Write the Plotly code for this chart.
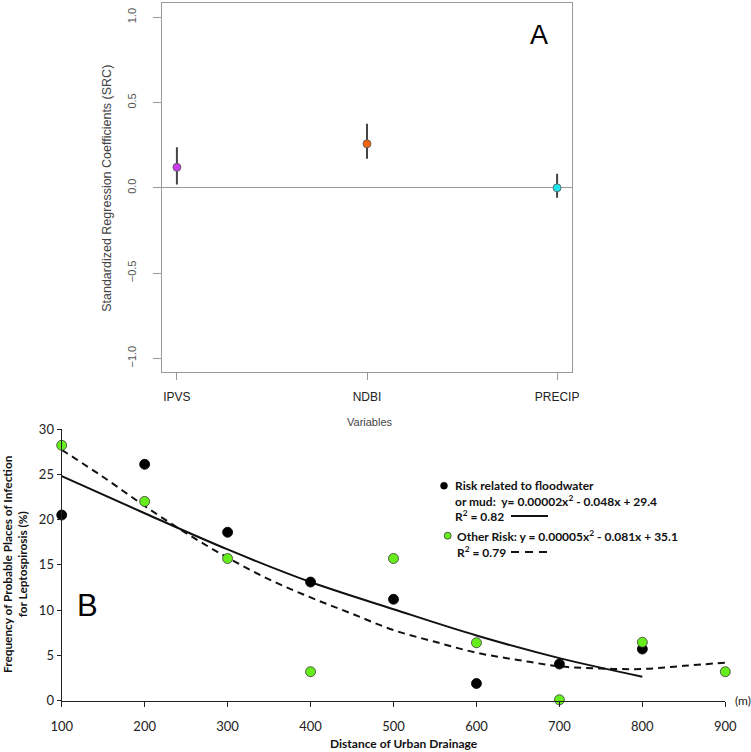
import plotly.graph_objects as go

W, H = 751, 752

# ---------------- Panel A data ----------------
variables = ["IPVS", "NDBI", "PRECIP"]
src = [0.12, 0.258, 0.0]
src_upper = [0.238, 0.375, 0.082]
src_lower = [0.02, 0.17, -0.059]
src_colors = ["#c93ceb", "#f2650f", "#1fe3ea"]
src_ticks = [-1.0, -0.5, 0.0, 0.5, 1.0]

# ---------------- Panel B data ----------------
dist_flood = [100, 200, 300, 400, 500, 600, 700, 800]
floodwater = [20.5, 26.1, 18.6, 13.1, 11.2, 1.9, 4.05, 5.7]
dist_other = [100, 200, 300, 400, 500, 600, 700, 800, 900]
other_risk = [28.2, 22.0, 15.7, 3.2, 15.7, 6.4, 0.1, 6.45, 3.2]
flood_trend_x = [100, 200, 300, 400, 500, 600, 700, 800]
flood_trend = [24.8, 20.7, 16.7, 13.1, 10.1, 7.2, 4.7, 2.65]
other_trend_x = [100, 150, 200, 250, 300, 350, 400, 450, 500, 550, 600, 650, 700, 750, 800, 850, 900]
other_trend = [27.7, 24.7, 21.5, 18.5, 15.8, 13.4, 11.4, 9.6, 7.8, 6.5, 5.3, 4.5, 3.8, 3.55, 3.5, 3.85, 4.2]
dist_ticks = [100, 200, 300, 400, 500, 600, 700, 800, 900]
freq_ticks = [0, 5, 10, 15, 20, 25, 30]


def px(x):
    return x / W


def py(y):
    return 1 - y / H


fig = go.Figure()

# Panel A: SRC with error bars
err_plus = [u - v for u, v in zip(src_upper, src)]
err_minus = [v - l for v, l in zip(src, src_lower)]
fig.add_trace(go.Scatter(
    x=variables, y=src, mode="markers",
    marker=dict(size=8, color=src_colors, line=dict(color="#555555", width=0.8)),
    error_y=dict(type="data", symmetric=False, array=err_plus, arrayminus=err_minus,
                 color="#444444", thickness=2, width=0),
    xaxis="x", yaxis="y", showlegend=False, cliponaxis=False,
))

# Panel B: trend lines then points
fig.add_trace(go.Scatter(
    x=flood_trend_x, y=flood_trend, mode="lines",
    line=dict(color="#111111", width=2, shape="spline"),
    xaxis="x2", yaxis="y2", showlegend=False,
))
fig.add_trace(go.Scatter(
    x=other_trend_x, y=other_trend, mode="lines",
    line=dict(color="#111111", width=2, dash="7px,5px", shape="spline"),
    xaxis="x2", yaxis="y2", showlegend=False,
))
fig.add_trace(go.Scatter(
    x=dist_flood, y=floodwater, mode="markers",
    marker=dict(size=10, color="#000000", line=dict(color="#000000", width=0.8)),
    xaxis="x2", yaxis="y2", showlegend=False, cliponaxis=False,
))
fig.add_trace(go.Scatter(
    x=dist_other, y=other_risk, mode="markers",
    marker=dict(size=10, color="#66ee1c", line=dict(color="#3a3a3a", width=0.8)),
    xaxis="x2", yaxis="y2", showlegend=False, cliponaxis=False,
))

fontA = "Liberation Sans, Arial, sans-serif"
fontB = "Lato, Carlito, Calibri, sans-serif"

fig.update_layout(
    width=W, height=H,
    margin=dict(l=0, r=0, t=0, b=0),
    paper_bgcolor="white", plot_bgcolor="white",
    xaxis=dict(
        domain=[px(161.7), px(572.3)], anchor="y",
        type="category", range=[-0.08, 2.08],
        showline=True, mirror=True, linecolor="#9a9a9a", linewidth=1,
        ticks="outside", ticklen=7, tickcolor="#9a9a9a",
        tickfont=dict(family=fontA, size=12, color="#222222"),
        showgrid=False, zeroline=False, automargin=False,
        ticklabelstandoff=6,
    ),
    yaxis=dict(
        domain=[py(372.3), py(3.3)], anchor="x",
        range=[-1.082, 1.082],
        tickvals=src_ticks, tickformat=".1f", tickangle=-90,
        showline=True, mirror=True, linecolor="#9a9a9a", linewidth=1,
        ticks="outside", ticklen=8, tickcolor="#9a9a9a",
        tickfont=dict(family=fontA, size=11, color="#555555"),
        showgrid=False, zeroline=True, zerolinecolor="#9a9a9a", zerolinewidth=1,
        automargin=False, ticklabelstandoff=12,
    ),
    xaxis2=dict(
        domain=[px(61.7), px(725.3)], anchor="y2",
        range=[100, 900], tickvals=dist_ticks,
        showline=True, linecolor="#222222", linewidth=1.3,
        ticks="outside", ticklen=5, tickcolor="#222222",
        tickfont=dict(family=fontB, size=13, color="#222222"),
        showgrid=False, zeroline=False, automargin=False,
        ticklabelstandoff=9,
    ),
    yaxis2=dict(
        domain=[py(700.7), py(429)], anchor="x2",
        range=[0, 30], tickvals=freq_ticks,
        showline=True, linecolor="#222222", linewidth=1.3,
        ticks="outside", ticklen=4, tickcolor="#222222",
        tickfont=dict(family=fontB, size=13, color="#222222"),
        showgrid=False, zeroline=False, automargin=False,
    ),
)

ann = []
# Panel A texts
ann.append(dict(text="A", x=px(539), y=py(34.5), xref="paper", yref="paper",
                showarrow=False, font=dict(family=fontA, size=27, color="#000000"),
                xanchor="center", yanchor="middle"))
ann.append(dict(text="Standardized Regression Coefficients (SRC)", x=px(107), y=py(187.8),
                xref="paper", yref="paper", showarrow=False, textangle=-90,
                font=dict(family=fontA, size=12.5, color="#444444"),
                xanchor="center", yanchor="middle"))
ann.append(dict(text="Variables", x=px(370), y=py(422), xref="paper", yref="paper",
                showarrow=False, font=dict(family=fontA, size=11, color="#444444"),
                xanchor="center", yanchor="middle"))
# Panel B texts
ann.append(dict(text="B", x=px(87), y=py(605), xref="paper", yref="paper",
                showarrow=False, font=dict(family=fontA, size=31, color="#000000"),
                xanchor="center", yanchor="middle"))
ann.append(dict(text="<b>Frequency of Probable Places of Infection<br>for Leptospirosis (%)</b>",
                x=px(15), y=py(565), xref="paper", yref="paper", showarrow=False,
                textangle=-90, font=dict(family=fontB, size=11.8, color="#111111"),
                xanchor="center", yanchor="middle"))
ann.append(dict(text="<b>Distance of Urban Drainage</b>", x=px(404), y=py(743),
                xref="paper", yref="paper", showarrow=False,
                font=dict(family=fontB, size=12, color="#111111"),
                xanchor="center", yanchor="middle"))
ann.append(dict(text="(m)", x=px(733), y=py(700), xref="paper", yref="paper",
                showarrow=False, font=dict(family=fontB, size=12, color="#222222"),
                xanchor="left", yanchor="middle"))
# legend texts
leg_font = dict(family=fontB, size=12, color="#111111")
for txt, xx, yy in [
    ("<b>Risk related to floodwater</b>", 453, 485.5),
    ("<b>or mud:\u00a0 y= 0.00002x<sup>2</sup> - 0.048x + 29.4</b>", 453, 501),
    ("<b>R<sup>2</sup> = 0.82</b>", 453, 516),
    ("<b>Other Risk: y = 0.00005x<sup>2</sup> - 0.081x + 35.1</b>", 455, 535.5),
    ("<b>R<sup>2</sup> = 0.79</b>", 455, 551.5),
]:
    ann.append(dict(text=txt, x=px(xx), y=py(yy), xref="paper", yref="paper",
                    showarrow=False, font=leg_font, xanchor="left", yanchor="middle"))
fig.update_layout(annotations=ann)

shapes = [
    dict(type="circle", xref="paper", yref="paper",
         x0=px(440.5), x1=px(447.5), y0=py(489.2), y1=py(482.2),
         fillcolor="#000000", line=dict(color="#000000", width=0.5)),
    dict(type="circle", xref="paper", yref="paper",
         x0=px(444.2), x1=px(451.2), y0=py(539.2), y1=py(532.2),
         fillcolor="#66ee1c", line=dict(color="#3a3a3a", width=0.8)),
    dict(type="line", xref="paper", yref="paper",
         x0=px(511), x1=px(548), y0=py(516), y1=py(516),
         line=dict(color="#111111", width=2)),
    dict(type="line", xref="paper", yref="paper",
         x0=px(511), x1=px(548), y0=py(552), y1=py(552),
         line=dict(color="#111111", width=2, dash="8px,6px")),
]
fig.update_layout(shapes=shapes)

fig.write_html("out.html")
